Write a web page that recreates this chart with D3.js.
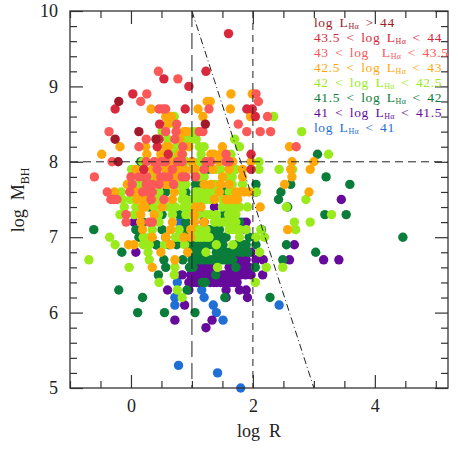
<!DOCTYPE html>
<html>
<head>
<meta charset="utf-8">
<script src="https://cdn.jsdelivr.net/npm/d3@7"></script>
<style>
  body { margin: 0; background: #fff; }
  text { font-family: "Liberation Serif", "DejaVu Serif", serif; }
</style>
</head>
<body>
<script>
// log R vs log M_BH, colour = log L_Ha class
const above44 = [[-0.2, 8.8], [-0.26, 8.3], [-0.21, 8.0], [0.13, 8.4], [0.41, 8.3], [1.22, 8.5]];
const from435 = [[1.6, 9.7], [0.54, 9.1], [1.23, 9.2], [0.95, 9.0], [0.03, 8.9], [-0.26, 8.7], [0.89, 8.7],
  [1.9, 8.7], [1.99, 8.7], [2.04, 8.6], [0.47, 8.5], [0.46, 8.3], [0.61, 8.1], [1.97, 8.1], [0.21, 7.9],
  [1.97, 7.9], [0.43, 8.2]];
const from43 = [[0.45, 9.2], [0.77, 9.1], [0.26, 8.9], [0.16, 8.8], [2.09, 8.8], [2.05, 8.9], [0.46, 8.7],
  [0.52, 8.7], [0.57, 8.7], [1.28, 8.7], [2.24, 8.6], [0.75, 8.5], [1.76, 8.5], [-0.36, 8.4], [0.57, 8.4],
  [0.74, 8.4], [1.12, 8.4], [1.18, 8.4], [1.9, 8.4], [2.12, 8.4], [2.29, 8.4], [0.25, 8.3], [0.72, 8.3],
  [0.13, 8.2], [0.85, 8.2], [2.71, 8.2], [0.84, 8.1], [1.56, 8.1], [-0.31, 8.0], [0.25, 8.0], [0.38, 8.0],
  [0.5, 8.0], [0.57, 8.0], [0.76, 8.0], [0.84, 8.0], [1.23, 8.0], [1.31, 8.0], [1.56, 8.0], [1.61, 8.0],
  [0.43, 7.9], [0.68, 7.9], [1.2, 7.9], [-0.6, 7.8], [0.0, 7.8], [0.13, 7.8], [0.2, 7.8], [0.26, 7.8],
  [0.49, 7.8], [0.54, 7.8], [0.62, 7.8], [0.84, 7.8], [0.9, 7.8], [1.06, 7.8], [0.02, 7.7], [0.25, 7.7],
  [0.35, 7.7], [0.46, 7.7], [0.7, 7.7], [-0.39, 7.6], [-0.02, 7.6], [0.19, 7.6], [0.3, 7.6], [0.35, 7.6],
  [-0.33, 7.5], [-0.28, 7.5], [-0.23, 7.5], [0.33, 7.5], [0.54, 7.5], [-0.08, 7.3], [-0.08, 7.2],
  [0.3, 7.2], [0.35, 7.2]];
const from425 = [[1.64, 8.9], [1.99, 8.9], [1.25, 8.8], [1.3, 8.8], [0.33, 8.7], [1.1, 8.7], [1.63, 8.7],
  [0.57, 8.6], [0.66, 8.6], [1.18, 8.6], [1.96, 8.6], [0.6, 8.5], [0.87, 8.4], [0.92, 8.4], [0.8, 8.3],
  [-0.18, 8.2], [0.24, 8.2], [0.57, 8.2], [0.62, 8.2], [0.95, 8.2], [1.5, 8.2], [2.6, 8.2], [-0.48, 8.1],
  [0.26, 8.1], [0.49, 8.1], [0.79, 8.1], [1.31, 8.1], [1.47, 8.1], [1.36, 8.1], [0.43, 8.0], [0.68, 8.0],
  [1.0, 8.0], [1.45, 8.0], [1.67, 8.0], [1.97, 8.0], [2.64, 8.0], [3.0, 8.0], [0.08, 7.9], [0.35, 7.9],
  [0.57, 7.9], [0.62, 7.9], [0.74, 7.9], [0.79, 7.9], [0.87, 7.9], [1.0, 7.9], [1.06, 7.9], [1.34, 7.9],
  [1.61, 7.9], [1.83, 7.9], [2.62, 7.9], [2.94, 7.9], [0.43, 7.8], [0.73, 7.8], [0.79, 7.8], [1.5, 7.8],
  [1.83, 7.8], [2.64, 7.8], [-0.06, 7.7], [0.3, 7.7], [0.38, 7.7], [0.57, 7.7], [0.62, 7.7], [1.2, 7.7],
  [1.31, 7.7], [1.47, 7.7], [1.61, 7.7], [2.52, 7.7], [-0.27, 7.6], [0.02, 7.6], [0.1, 7.6], [0.71, 7.6],
  [1.45, 7.6], [1.72, 7.6], [1.8, 7.6], [1.86, 7.6], [1.94, 7.6], [2.92, 7.6], [0.1, 7.5], [0.18, 7.5],
  [0.24, 7.5], [0.35, 7.5], [0.68, 7.5], [1.37, 7.5], [1.56, 7.5], [1.62, 7.5], [1.7, 7.5], [1.75, 7.5],
  [0.19, 7.4], [0.24, 7.4], [0.51, 7.4], [1.06, 7.4], [1.15, 7.4], [2.12, 7.4], [0.16, 7.3], [0.38, 7.3],
  [1.04, 7.3], [0.16, 7.2], [0.68, 7.2], [1.04, 7.2], [1.2, 7.2], [0.19, 7.1], [0.65, 7.1], [0.98, 7.1],
  [2.57, 7.1], [0.35, 7.0], [0.57, 7.0], [0.87, 7.0], [0.98, 7.0], [-0.04, 6.9], [0.05, 6.9], [0.65, 6.9],
  [0.49, 6.8], [0.93, 6.8], [0.72, 6.7], [0.35, 6.6]];
const from42 = [[2.34, 8.6], [0.71, 8.6], [0.72, 8.5], [0.51, 8.4], [1.0, 8.4], [1.07, 8.4], [2.8, 8.4],
  [0.6, 8.3], [0.9, 8.3], [1.0, 8.3], [1.07, 8.3], [1.7, 8.3], [0.75, 8.2], [1.12, 8.2], [1.2, 8.2],
  [1.78, 8.2], [0.7, 8.1], [0.85, 8.1], [1.15, 8.1], [1.64, 8.1], [3.24, 8.1], [0.19, 8.0], [0.5, 8.0],
  [0.6, 8.0], [0.9, 8.0], [1.12, 8.0], [1.2, 8.0], [2.1, 8.0], [0.01, 7.9], [0.4, 7.9], [0.84, 7.9],
  [1.4, 7.9], [1.47, 7.9], [1.72, 7.9], [2.1, 7.9], [2.43, 7.9], [2.65, 7.9], [0.35, 7.8], [1.12, 7.8],
  [1.2, 7.8], [1.56, 7.8], [1.66, 7.8], [0.1, 7.7], [0.16, 7.7], [0.73, 7.7], [0.79, 7.7], [0.9, 7.7],
  [1.37, 7.7], [1.45, 7.7], [1.66, 7.7], [1.83, 7.7], [-0.16, 7.6], [0.23, 7.6], [0.46, 7.6], [0.84, 7.6],
  [1.06, 7.6], [1.12, 7.6], [1.2, 7.6], [1.28, 7.6], [1.34, 7.6], [1.61, 7.6], [2.06, 7.6], [-0.14, 7.5],
  [-0.01, 7.5], [0.46, 7.5], [0.84, 7.5], [0.9, 7.5], [1.01, 7.5], [1.08, 7.5], [1.17, 7.5], [1.23, 7.5],
  [1.3, 7.5], [1.5, 7.5], [2.87, 7.5], [-0.11, 7.4], [0.08, 7.4], [0.38, 7.4], [0.62, 7.4], [0.68, 7.4],
  [0.73, 7.4], [0.87, 7.4], [0.95, 7.4], [1.5, 7.4], [1.6, 7.4], [1.69, 7.4], [1.78, 7.4], [1.91, 7.4],
  [2.55, 7.4], [-0.18, 7.3], [0.05, 7.3], [0.45, 7.3], [0.68, 7.3], [0.9, 7.3], [0.98, 7.3], [1.1, 7.3],
  [1.23, 7.3], [1.3, 7.3], [1.4, 7.3], [1.6, 7.3], [1.66, 7.3], [1.72, 7.3], [3.29, 7.3], [0.46, 7.2],
  [1.37, 7.2], [1.45, 7.2], [1.53, 7.2], [1.61, 7.2], [1.67, 7.2], [1.72, 7.2], [2.68, 7.2], [2.94, 7.2],
  [0.35, 7.1], [0.79, 7.1], [1.06, 7.1], [1.12, 7.1], [1.17, 7.1], [1.23, 7.1], [1.61, 7.1], [1.67, 7.1],
  [1.72, 7.1], [1.78, 7.1], [1.89, 7.1], [2.13, 7.1], [2.7, 7.1], [-0.35, 7.0], [0.2, 7.0], [0.3, 7.0],
  [0.73, 7.0], [0.79, 7.0], [1.07, 7.0], [1.12, 7.0], [1.17, 7.0], [1.23, 7.0], [1.28, 7.0], [1.78, 7.0],
  [2.05, 7.0], [2.19, 7.0], [-0.26, 6.9], [0.2, 6.9], [0.3, 6.9], [0.55, 6.9], [0.88, 6.9], [1.4, 6.9],
  [1.67, 6.9], [0.28, 6.8], [1.23, 6.8], [2.11, 6.8], [-0.69, 6.7], [0.3, 6.7], [-0.03, 6.6], [0.72, 6.6],
  [1.42, 6.6], [2.22, 6.6], [2.49, 6.6], [0.71, 6.5], [0.46, 6.4], [2.04, 6.4], [0.76, 6.3], [0.84, 6.2]];
const from415 = [[3.06, 8.1], [0.16, 8.0], [1.2, 7.9], [1.26, 7.9], [3.2, 7.8], [0.19, 7.7], [1.06, 7.7],
  [2.05, 7.7], [2.62, 7.7], [3.59, 7.7], [0.16, 7.6], [0.57, 7.6], [0.9, 7.6], [1.5, 7.6], [1.56, 7.6],
  [1.61, 7.6], [1.66, 7.6], [2.05, 7.6], [2.46, 7.6], [0.95, 7.5], [2.42, 7.5], [0.3, 7.4], [1.09, 7.4],
  [2.57, 7.4], [0.51, 7.3], [0.79, 7.3], [1.53, 7.3], [3.18, 7.3], [3.53, 7.3], [0.2, 7.2], [0.9, 7.2],
  [1.78, 7.2], [-0.61, 7.1], [0.08, 7.1], [0.51, 7.1], [0.9, 7.1], [1.28, 7.1], [1.34, 7.1], [1.4, 7.1],
  [1.45, 7.1], [2.14, 7.1], [0.13, 7.0], [0.57, 7.0], [0.85, 7.0], [0.92, 7.0], [1.4, 7.0], [1.45, 7.0],
  [1.51, 7.0], [1.56, 7.0], [1.94, 7.0], [4.46, 7.0], [0.42, 6.9], [0.62, 6.9], [0.75, 6.9], [0.99, 6.9],
  [1.04, 6.9], [1.1, 6.9], [1.17, 6.9], [1.23, 6.9], [1.29, 6.9], [1.34, 6.9], [1.51, 6.9], [1.73, 6.9],
  [1.78, 6.9], [1.84, 6.9], [1.89, 6.9], [2.05, 6.9], [2.55, 6.9], [-0.15, 6.8], [0.95, 6.8], [1.0, 6.8],
  [1.06, 6.8], [1.12, 6.8], [1.17, 6.8], [1.4, 6.8], [1.45, 6.8], [1.51, 6.8], [1.56, 6.8], [1.62, 6.8],
  [1.67, 6.8], [1.78, 6.8], [1.84, 6.8], [1.92, 6.8], [3.03, 6.8], [0.54, 6.7], [0.85, 6.7], [1.0, 6.7],
  [1.06, 6.7], [1.12, 6.7], [1.17, 6.7], [1.23, 6.7], [1.28, 6.7], [1.34, 6.7], [1.4, 6.7], [1.45, 6.7],
  [1.51, 6.7], [1.56, 6.7], [1.61, 6.7], [1.67, 6.7], [2.49, 6.7], [0.57, 6.6], [0.96, 6.6], [1.02, 6.6],
  [1.72, 6.6], [2.04, 6.6], [0.45, 6.5], [1.39, 6.5], [1.17, 6.4], [1.22, 6.4], [-0.2, 6.3], [0.92, 6.3],
  [0.19, 6.2], [1.54, 6.2], [2.28, 6.2], [0.11, 6.0], [0.55, 6.0], [1.05, 6.0]];
const from41 = [[1.0, 8.0], [1.09, 7.7], [1.2, 7.7], [1.37, 7.4], [3.45, 7.5], [1.12, 7.3], [0.05, 7.2],
  [0.9, 7.2], [1.2, 7.2], [1.89, 7.2], [1.88, 7.1], [0.41, 6.9], [2.68, 6.9], [0.08, 6.8], [1.97, 6.8],
  [1.72, 6.7], [1.78, 6.7], [1.84, 6.7], [1.89, 6.7], [2.05, 6.7], [2.17, 6.7], [2.6, 6.7], [3.16, 6.7],
  [3.41, 6.7], [1.12, 6.6], [1.17, 6.6], [1.23, 6.6], [1.28, 6.6], [1.34, 6.6], [1.61, 6.6], [1.83, 6.6],
  [1.89, 6.6], [1.94, 6.6], [0.84, 6.5], [0.98, 6.5], [1.04, 6.5], [1.1, 6.5], [1.15, 6.5], [1.21, 6.5],
  [1.26, 6.5], [1.32, 6.5], [1.45, 6.5], [1.51, 6.5], [1.56, 6.5], [1.62, 6.5], [1.67, 6.5], [1.73, 6.5],
  [1.8, 6.5], [1.88, 6.5], [1.97, 6.5], [2.16, 6.5], [0.95, 6.4], [1.01, 6.4], [1.07, 6.4], [1.12, 6.4],
  [1.3, 6.4], [1.36, 6.4], [1.41, 6.4], [1.47, 6.4], [1.52, 6.4], [1.58, 6.4], [1.63, 6.4], [1.69, 6.4],
  [1.74, 6.4], [0.6, 6.3], [0.95, 6.3], [1.56, 6.3], [1.78, 6.3], [1.89, 6.3], [1.56, 6.2], [1.91, 6.2],
  [0.88, 6.1], [0.72, 5.9], [1.33, 5.9], [1.23, 5.8]];
const below41 = [[0.8, 7.2], [1.83, 7.2], [0.76, 6.4], [1.16, 6.3], [0.72, 6.2], [1.2, 6.2], [0.72, 6.1],
  [1.35, 6.1], [2.43, 6.1], [1.4, 6.0], [1.51, 5.9], [0.78, 5.3], [1.42, 5.2], [1.8, 5.0]];

const groups = [above44, from435, from43, from425, from42, from415, from41, below41];
const colors = ["#a11a2a", "#d9283c", "#fb5858", "#ffa80a", "#9aea1c", "#0a7d3a", "#660a9c", "#1f6fd6"];
const legendPre = ["log L", "43.5 < log L", "43 < log  L", "42.5 < log L", "42 < log L", "41.5 < log L", "41 < log L", "log L"];
const legendPost = [" > 44", " < 44", " < 43.5", " < 43", " < 42.5", " < 42", " < 41.5", " < 41"];

const xTicks = [0, 2, 4];
const xMinor = [-1, -0.5, 0.5, 1, 1.5, 2.5, 3, 3.5, 4.5, 5];
const yTicks = [5, 6, 7, 8, 9, 10];
const yMinor = d3.range(5.2, 10, 0.2).filter(v => Math.abs(v - Math.round(v)) > 0.01);

const W = 458, H = 458;
const svg = d3.select("body").append("svg").attr("width", W).attr("height", H);

const x = d3.scaleLinear().domain([-1, 5.2]).range([70, 448]);
const y = d3.scaleLinear().domain([5, 10]).range([388, 11]);

// points, faintest class first
const order = [7, 6, 5, 4, 3, 2, 1, 0];
order.forEach(i => {
  svg.append("g")
    .selectAll("circle")
    .data(groups[i])
    .enter()
    .append("circle")
    .attr("cx", d => x(d[0]))
    .attr("cy", d => y(d[1]))
    .attr("r", 4.7)
    .attr("fill", colors[i]);
});

// reference lines
const lines = svg.append("g").attr("fill", "none").attr("stroke", "#222").attr("stroke-width", 1);
lines.append("line")
  .attr("x1", x(-1)).attr("x2", x(5.2)).attr("y1", y(8)).attr("y2", y(8))
  .attr("stroke-dasharray", "8,5");
lines.append("line")
  .attr("x1", x(1)).attr("x2", x(1)).attr("y1", y(10)).attr("y2", y(5))
  .attr("stroke-dasharray", "16,6");
lines.append("line")
  .attr("x1", x(2)).attr("x2", x(2)).attr("y1", y(10)).attr("y2", y(5))
  .attr("stroke-dasharray", "7,5");
lines.append("line")
  .attr("x1", x(1)).attr("x2", x(3)).attr("y1", y(10)).attr("y2", y(5))
  .attr("stroke-dasharray", "7,3,1,3");

// axes, ticks pointing inward
function styleAxis(g) {
  g.select(".domain").remove();
  g.selectAll("line").attr("stroke", "#333").attr("stroke-width", 1.2);
  g.selectAll("text").attr("font-size", 18).attr("fill", "#222")
    .style("font-family", "'Liberation Serif', serif");
}
svg.append("g").attr("transform", "translate(0,388)")
  .call(d3.axisBottom(x).tickValues(xTicks).tickSize(-13).tickPadding(11).tickFormat(d3.format("d")))
  .call(styleAxis);
svg.append("g").attr("transform", "translate(0,388)")
  .call(d3.axisBottom(x).tickValues(xMinor).tickSize(-7).tickFormat(""))
  .call(styleAxis);
svg.append("g").attr("transform", "translate(0,11)")
  .call(d3.axisTop(x).tickValues(xTicks).tickSize(-13).tickFormat(""))
  .call(styleAxis);
svg.append("g").attr("transform", "translate(0,11)")
  .call(d3.axisTop(x).tickValues(xMinor).tickSize(-7).tickFormat(""))
  .call(styleAxis);
svg.append("g").attr("transform", "translate(70,0)")
  .call(d3.axisLeft(y).tickValues(yTicks).tickSize(-13).tickPadding(12).tickFormat(d3.format("d")))
  .call(styleAxis);
svg.append("g").attr("transform", "translate(70,0)")
  .call(d3.axisLeft(y).tickValues(yMinor).tickSize(-7).tickFormat(""))
  .call(styleAxis);
svg.append("g").attr("transform", "translate(448,0)")
  .call(d3.axisRight(y).tickValues(yTicks).tickSize(-13).tickFormat(""))
  .call(styleAxis);
svg.append("g").attr("transform", "translate(448,0)")
  .call(d3.axisRight(y).tickValues(yMinor).tickSize(-7).tickFormat(""))
  .call(styleAxis);

svg.append("rect")
  .attr("x", 70).attr("y", 11).attr("width", 378).attr("height", 377)
  .attr("fill", "none").attr("stroke", "#333").attr("stroke-width", 1.3);

// axis titles
svg.append("text")
  .attr("x", 259).attr("y", 437)
  .attr("text-anchor", "middle").attr("font-size", 18).attr("fill", "#222")
  .style("white-space", "pre")
  .text("log  R");

const yl = svg.append("text")
  .attr("transform", "translate(24,200) rotate(-90)")
  .attr("text-anchor", "middle").attr("font-size", 18).attr("fill", "#222")
  .style("white-space", "pre");
yl.append("tspan").text("log  M");
yl.append("tspan").attr("font-size", 12).attr("dy", 5).text("BH");

// legend
const legend = svg.append("g");
legendPre.forEach((pre, i) => {
  const t = legend.append("text")
    .attr("x", 314).attr("y", 27 + i * 15)
    .attr("font-size", 13.5).attr("fill", colors[i])
    .attr("letter-spacing", 0.6).attr("word-spacing", 2.5)
    .style("white-space", "pre");
  t.append("tspan").text(pre);
  t.append("tspan").attr("font-size", 8).attr("dy", 2).attr("letter-spacing", 0.3).text("Hα");
  t.append("tspan").attr("dy", -2).text(legendPost[i]);
});
</script>
</body>
</html>
